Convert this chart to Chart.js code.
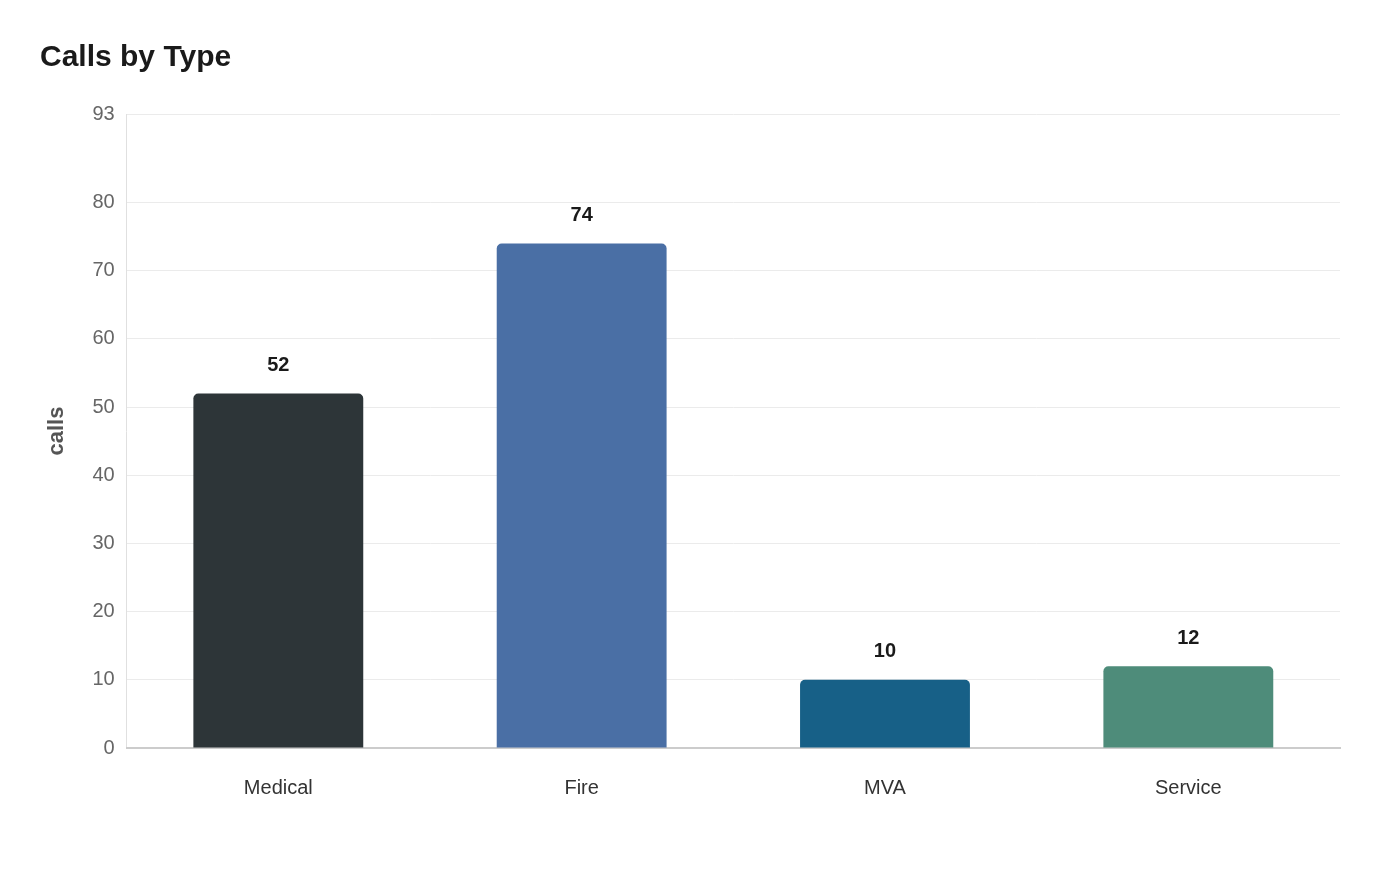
<!DOCTYPE html>
<html>
<head>
<meta charset="utf-8">
<script src="https://cdn.jsdelivr.net/npm/chart.js@4"></script>
<style>
  html, body { margin: 0; padding: 0; background: #fff; }
  #wrap { width: 1400px; height: 880px; }
</style>
</head>
<body>
<div id="wrap"><canvas id="callsChart"></canvas></div>
<script>
// data
const categories = ['Medical', 'Fire', 'MVA', 'Service'];
const callCounts = [52, 74, 10, 12];
const barColors = ['#2d3538', '#4a6fa5', '#176087', '#4e8c7a'];
const yTicks = [0, 10, 20, 30, 40, 50, 60, 70, 80, 93];

Chart.defaults.font.family = '"Liberation Sans", Arial, sans-serif';

// draws the value above each bar
const valueLabels = {
    id: 'valueLabels',
    afterDatasetsDraw(chart) {
        const ctx = chart.ctx;
        const meta = chart.getDatasetMeta(0);
        ctx.save();
        ctx.font = 'bold 20px "Liberation Sans", Arial, sans-serif';
        ctx.fillStyle = '#1a1a1a';
        ctx.textAlign = 'center';
        ctx.textBaseline = 'bottom';
        meta.data.forEach(function(bar, i) {
            ctx.fillText(callCounts[i], bar.x, bar.y - 18);
        });
        ctx.restore();
    }
};

new Chart(document.getElementById('callsChart'), {
    type: 'bar',
    data: {
        labels: categories,
        datasets: [{
            data: callCounts,
            backgroundColor: barColors,
            borderRadius: { topLeft: 5, topRight: 5 },
            borderSkipped: 'bottom',
            categoryPercentage: 0.56,
            barPercentage: 1
        }]
    },
    options: {
        responsive: true,
        maintainAspectRatio: false,
        animation: false,
        layout: { padding: { left: 40, right: 60, top: 40, bottom: 60 } },
        plugins: {
            legend: { display: false },
            tooltip: { enabled: false },
            title: {
                display: true,
                text: 'Calls by Type',
                align: 'start',
                color: '#1a1a1a',
                font: { size: 30, weight: 'bold' },
                padding: { top: 0, bottom: 38 }
            }
        },
        scales: {
            y: {
                min: 0,
                max: 93,
                afterBuildTicks: function(axis) {
                    axis.ticks = yTicks.map(function(v) { return { value: v }; });
                },
                ticks: { color: '#666', font: { size: 20 }, padding: 12 },
                grid: { color: '#ebebeb', drawTicks: false },
                border: { color: '#e0e0e0' },
                title: {
                    display: true,
                    text: 'calls',
                    color: '#555',
                    font: { size: 22, weight: 'bold' },
                    padding: { bottom: 10 }
                }
            },
            x: {
                ticks: { color: '#333', font: { size: 20 }, padding: 20 },
                grid: { display: false },
                border: { color: '#cccccc', width: 2 }
            }
        }
    },
    plugins: [valueLabels]
});
</script>
</body>
</html>
